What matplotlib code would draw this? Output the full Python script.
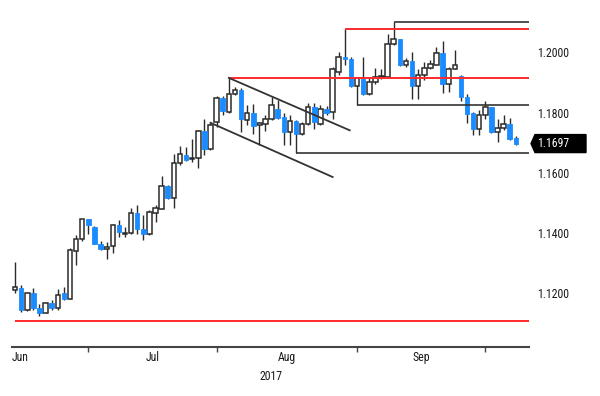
import numpy as np
import pandas as pd
import matplotlib
matplotlib.use("Agg")
import matplotlib.pyplot as plt
from matplotlib import font_manager
from matplotlib.patches import Polygon
from matplotlib.transforms import blended_transform_factory

# ---------------- data ----------------
dates = pd.bdate_range("2017-06-14", "2017-10-06")

opens = [1.1210, 1.1219, 1.1143, 1.1201, 1.1152, 1.1135, 1.1169, 1.1151, 1.1202, 1.1182,
         1.1340, 1.1379, 1.1445, 1.1420, 1.1365, 1.1346, 1.1356, 1.1426, 1.1397, 1.1400,
         1.1466, 1.1415, 1.1398, 1.1467, 1.1481, 1.1555, 1.1516, 1.1634, 1.1660, 1.1647,
         1.1650, 1.1738, 1.1680, 1.1769, 1.1848, 1.1802, 1.1863, 1.1876, 1.1774, 1.1799,
         1.1757, 1.1763, 1.1777, 1.1813, 1.1785, 1.1735, 1.1771, 1.1730, 1.1763, 1.1818,
         1.1763, 1.1811, 1.1802, 1.1933, 1.1984, 1.1979, 1.1888, 1.1910, 1.1860, 1.1901,
         1.1917, 1.1918, 1.2026, 1.2043, 1.1957, 1.1970, 1.1888, 1.1924, 1.1949, 1.1959,
         1.1998, 1.1896, 1.1946, 1.1920, 1.1850, 1.1799, 1.1747, 1.1791, 1.1818, 1.1735,
         1.1750, 1.1763, 1.1715]
highs = [1.1304, 1.1229, 1.1205, 1.1216, 1.1166, 1.1171, 1.1178, 1.1213, 1.1221, 1.1352,
         1.1395, 1.1448, 1.1448, 1.1424, 1.1373, 1.1370, 1.1431, 1.1442, 1.1420, 1.1483,
         1.1492, 1.1459, 1.1475, 1.1492, 1.1588, 1.1558, 1.1664, 1.1688, 1.1686, 1.1713,
         1.1743, 1.1780, 1.1765, 1.1854, 1.1854, 1.1915, 1.1885, 1.1880, 1.1824, 1.1830,
         1.1769, 1.1791, 1.1852, 1.1843, 1.1799, 1.1791, 1.1775, 1.1769, 1.1832, 1.1832,
         1.1824, 1.1822, 1.1951, 1.2001, 1.2076, 1.1984, 1.1918, 1.1984, 1.1918, 1.1948,
         1.1946, 1.2062, 1.2099, 1.2045, 1.1981, 1.2001, 1.1946, 1.1968, 1.1976, 1.2016,
         1.2038, 1.1950, 1.2009, 1.1924, 1.1863, 1.1802, 1.1807, 1.1838, 1.1820, 1.1777,
         1.1791, 1.1783, 1.1721]
lows = [1.1200, 1.1138, 1.1140, 1.1146, 1.1124, 1.1133, 1.1144, 1.1146, 1.1177, 1.1180,
        1.1295, 1.1375, 1.1398, 1.1363, 1.1343, 1.1315, 1.1334, 1.1387, 1.1387, 1.1396,
        1.1396, 1.1376, 1.1395, 1.1437, 1.1479, 1.1514, 1.1484, 1.1625, 1.1639, 1.1636,
        1.1617, 1.1658, 1.1675, 1.1752, 1.1791, 1.1798, 1.1857, 1.1735, 1.1758, 1.1730,
        1.1691, 1.1739, 1.1774, 1.1777, 1.1691, 1.1691, 1.1665, 1.1724, 1.1758, 1.1747,
        1.1757, 1.1791, 1.1780, 1.1924, 1.1957, 1.1886, 1.1826, 1.1857, 1.1857, 1.1896,
        1.1913, 1.1918, 1.2023, 1.1955, 1.1951, 1.1844, 1.1846, 1.1907, 1.1943, 1.1957,
        1.1865, 1.1868, 1.1943, 1.1838, 1.1765, 1.1724, 1.1724, 1.1780, 1.1733, 1.1702,
        1.1741, 1.1708, 1.1691]
closes = [1.1221, 1.1143, 1.1202, 1.1151, 1.1135, 1.1169, 1.1151, 1.1193, 1.1182, 1.1343,
          1.1379, 1.1445, 1.1428, 1.1365, 1.1346, 1.1354, 1.1426, 1.1403, 1.1400, 1.1466,
          1.1415, 1.1398, 1.1470, 1.1483, 1.1555, 1.1516, 1.1634, 1.1664, 1.1644, 1.1650,
          1.1738, 1.1678, 1.1758, 1.1848, 1.1804, 1.1863, 1.1876, 1.1777, 1.1799, 1.1754,
          1.1765, 1.1777, 1.1826, 1.1783, 1.1735, 1.1771, 1.1728, 1.1763, 1.1818, 1.1769,
          1.1811, 1.1800, 1.1946, 1.1984, 1.1977, 1.1888, 1.1915, 1.1863, 1.1901, 1.1918,
          1.1920, 1.2026, 1.2043, 1.1957, 1.1970, 1.1888, 1.1924, 1.1949, 1.1960, 1.1998,
          1.1896, 1.1946, 1.1957, 1.1850, 1.1796, 1.1747, 1.1791, 1.1818, 1.1735, 1.1749,
          1.1763, 1.1713, 1.1697]

# horizontal support / resistance levels: (start date, level)
red_level_starts = ["2017-06-14", "2017-08-02", "2017-08-29"]
red_levels = [1.1107, 1.1915, 1.2076]
black_level_starts = ["2017-08-17", "2017-08-31", "2017-09-08"]
black_levels = [1.1665, 1.1826, 1.2099]

# channel lines: start/end in (trading-day index, price)
channel_upper_x = [35.0, 54.8]
channel_upper_y = [1.1915, 1.1741]
channel_lower_x = [32.0, 52.0]
channel_lower_y = [1.1766, 1.1586]

y_ticks = [1.12, 1.14, 1.16, 1.18, 1.20]
month_labels = ["Jun", "Jul", "Aug", "Sep"]
year_label = "2017"
last_price = closes[-1]

# ---------------- style ----------------
fonts = font_manager.fontManager.ttflist
names = {f.name for f in fonts}
STRETCH = "normal"
if "Liberation Sans Narrow" in names:
    FAM, FS = "Liberation Sans Narrow", 9.5
elif "Roboto Condensed" in names:
    FAM, FS = "Roboto Condensed", 8.5
elif any(f.name == "DejaVu Sans" and str(f.stretch) in ("condensed", "semi-condensed")
         for f in fonts):
    FAM, FS, STRETCH = "DejaVu Sans", 8.3, "condensed"
else:
    FAM, FS = "DejaVu Sans", 7.6
plt.rcParams["font.family"] = [FAM, "DejaVu Sans"]
plt.rcParams["font.stretch"] = STRETCH

BLUE = "#1a8cff"
EDGE = "#2b2b2b"
RED = "#ff2a2a"
LINE = "#333333"
TXT = "#1a1a1a"

fig = plt.figure(figsize=(6.0, 3.96), dpi=100)
W, H = 600, 396
ax_l, ax_r, ax_t, ax_b = 12, 529.3, 5, 346.7
ax = fig.add_axes([ax_l / W, (H - ax_b) / H, (ax_r - ax_l) / W, (ax_b - ax_t) / H])

x = np.arange(len(dates))
o = np.array(opens); h = np.array(highs); l = np.array(lows); c = np.array(closes)
up = c >= o

xmin, xmax = -0.5, 84.2
ax.set_xlim(xmin, xmax)
ax.set_ylim(1.10227, 1.2157)

# wicks
ax.vlines(x, l, h, color=EDGE, linewidth=1.0, zorder=2)
# bodies
bw = 0.74
bottoms = np.minimum(o, c)
heights = np.maximum(np.abs(c - o), 0.00012)
ax.bar(x[up], heights[up], bottom=bottoms[up], width=bw, facecolor="white",
       edgecolor=EDGE, linewidth=1.1, zorder=3)
ax.bar(x[~up], heights[~up], bottom=bottoms[~up], width=bw, facecolor=BLUE,
       edgecolor=BLUE, linewidth=0.6, zorder=3)

# horizontal levels
pos = {d: i for i, d in enumerate(dates)}
for s, lv in zip(red_level_starts, red_levels):
    ax.hlines(lv, pos[pd.Timestamp(s)], xmax, color=RED, linewidth=1.4, zorder=4)
for s, lv in zip(black_level_starts, black_levels):
    i0 = pos[pd.Timestamp(s)]
    ax.hlines(lv, i0, xmax, color=LINE, linewidth=1.2, zorder=4)
    ext = l[i0] if lv < c[i0] else h[i0]
    ax.vlines(i0, min(ext, lv), max(ext, lv), color=LINE, linewidth=1.2, zorder=4)

# channel
ax.plot(channel_upper_x, channel_upper_y, color=LINE, linewidth=1.3, zorder=4)
ax.plot(channel_lower_x, channel_lower_y, color=LINE, linewidth=1.3, zorder=4)

# axes styling
for s in ["top", "left", "right"]:
    ax.spines[s].set_visible(False)
ax.spines["bottom"].set_color("#444444")
ax.spines["bottom"].set_linewidth(1.5)

ax.yaxis.tick_right()
ax.set_yticks(y_ticks)
ax.set_yticklabels([f"{v:.4f}" for v in y_ticks], fontsize=FS, color=TXT)
ax.tick_params(axis="y", length=0, pad=5.5)

# month-end ticks
s_dates = pd.Series(dates)
month_end_idx = s_dates.groupby(s_dates.dt.month).apply(lambda g: g.index[-1]).values[:-1]
ax.set_xticks(month_end_idx)
ax.set_xticklabels([])
ax.tick_params(axis="x", direction="out", length=3.5, width=1.0, color="#444444")

trans = blended_transform_factory(ax.transData, ax.transAxes)
ax_h_px = ax_b - ax_t
y_lab = -(361 - ax_b) / ax_h_px
ax.text(xmin, y_lab, month_labels[0], transform=trans, ha="left", va="baseline",
        fontsize=FS, color=TXT)
bounds = list(month_end_idx)
for k, lab in enumerate(month_labels[1:]):
    cx = (bounds[k] + bounds[k + 1]) / 2
    ax.text(cx, y_lab, lab, transform=trans, ha="center", va="baseline",
            fontsize=FS, color=TXT)
ax.text(0.5, -(379.5 - ax_b) / ax_h_px, year_label, transform=ax.transAxes,
        ha="center", va="baseline", fontsize=FS, color=TXT)

# last price tag
ax_w_px = ax_r - ax_l
tb = blended_transform_factory(ax.transAxes, ax.transData)
half = 9 * (ax.get_ylim()[1] - ax.get_ylim()[0]) / ax_h_px
fx = lambda px: 1 + px / ax_w_px
tag = Polygon([(fx(1.7), last_price), (fx(5.7), last_price + half),
               (fx(56.7), last_price + half), (fx(56.7), last_price - half),
               (fx(5.7), last_price - half)], closed=True, transform=tb,
              facecolor="black", edgecolor="black", clip_on=False, zorder=6)
ax.add_patch(tag)
ax.text(fx(7.7), last_price, f"{last_price:.4f}", transform=tb, ha="left",
        va="center", fontsize=FS, color="white", zorder=7, clip_on=False)

fig.savefig("out.png", dpi=100)
